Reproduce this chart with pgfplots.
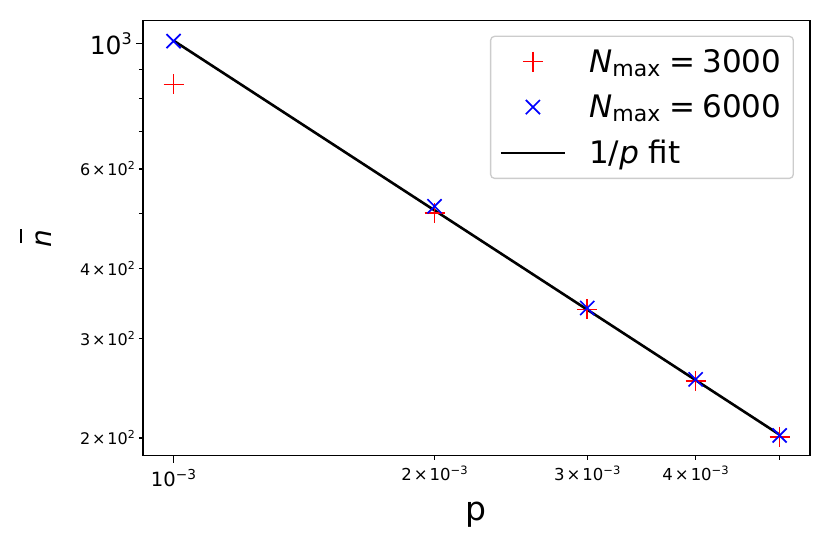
\documentclass[border=0pt]{standalone}
\usepackage{fontspec}
\setmainfont{DejaVu Sans}
\usepackage{pgfplots}
\pgfplotsset{compat=1.18}
\newcommand{\tenp}[3]{{\fontsize{#1pt}{#1pt}\selectfont 10\raisebox{0.38em}{\fontsize{#2pt}{#2pt}\selectfont #3}}}
\newcommand{\mtenp}[4]{{\fontsize{#1pt}{#1pt}\selectfont #3\hspace{0.12em}×\hspace{0.12em}10\raisebox{0.38em}{\fontsize{#2pt}{#2pt}\selectfont #4}}}
\newcommand{\Nmax}{\textit{N}\raisebox{-0.12em}{\fontsize{22}{22}\selectfont max}\hspace{0.3em}=\hspace{0.22em}}
\newcommand{\nbar}{\vbox{\hbox{\hspace{0.14em}\rule{0.5em}{1.3pt}}\kern2pt\hbox{\itshape n}}}
\begin{document}
\begin{tikzpicture}
\begin{axis}[
  name=ax,
  scale only axis,
  width=667pt, height=435pt,
  xmode=log, ymode=log,
  xmin=0.000922, xmax=0.00542,
  ymin=186, ymax=1099,
  axis line style={line width=1.5pt, black},
  tick style={line width=1.3pt, black},
  tick align=outside,
  tick pos=left,
  xtick={0.002,0.003,0.004,0.005},
  xticklabels={\mtenp{16.5}{11.5}{2}{−3},\mtenp{16.5}{11.5}{3}{−3},\mtenp{16.5}{11.5}{4}{−3},{}},
  extra x ticks={0.001},
  extra x tick labels={\tenp{19.6}{13.7}{−3}},
  extra x tick style={major tick length=7pt, tick pos=left},
  ytick={200,300,400,500,600,700,800,900},
  yticklabels={\mtenp{16}{11}{2}{2},\mtenp{16}{11}{3}{2},\mtenp{16}{11}{4}{2},{},\mtenp{16}{11}{6}{2},{},{},{}},
  extra y ticks={1000},
  extra y tick labels={\tenp{25}{16}{3}},
  extra y tick style={major tick length=7pt, tick pos=left},
  major tick length=4pt,
  minor tick num=0,
  xminorticks=false, yminorticks=false,
  xticklabel style={inner sep=0pt, anchor=north, yshift=-6pt},
  yticklabel style={inner sep=0pt, anchor=east, xshift=-4pt},
  xlabel={\fontsize{33}{33}\selectfont p},
  xlabel style={at={(axis description cs:0.5,-0.150)}, anchor=base, inner sep=0pt},
  ylabel={\fontsize{28}{28}\selectfont \nbar},
  ylabel style={at={(axis description cs:-0.1604,0.5)}, anchor=center, inner sep=0pt},
  legend style={at={(1,1)}, anchor=north east, xshift=-16pt, yshift=-15pt,
    draw=black!20, line width=1.3pt, rounded corners=4pt,
    font=\fontsize{31}{31}\selectfont,
    inner xsep=9pt, inner ysep=10pt, row sep=15pt,
    nodes={inner sep=3pt},
    /tikz/every odd column/.append style={column sep=20pt}},
  legend cell align=left,
  legend image code/.code={\draw[mark repeat=2,mark phase=2,#1] plot coordinates {(0pt,0pt) (32pt,0pt) (64pt,0pt)};},
]
\addplot[only marks, mark=+, color=red, mark size=10pt, line width=1.7pt] coordinates {
  (0.001,847) (0.002,501) (0.003,338) (0.004,252) (0.005,201)
};
\addlegendentry{\Nmax 3000}
\addplot[only marks, mark=x, color=blue, mark size=10pt, line width=1.7pt] coordinates {
  (0.001,1011) (0.002,515) (0.003,340) (0.004,254) (0.005,202)
};
\addlegendentry{\Nmax 6000}
\addplot[black, line width=2.6pt, no marks] coordinates {
  (0.001,1013) (0.005,202.6)
};
\addlegendentry{1/\textit{p} fit}
\end{axis}
\pgfresetboundingbox
\path ([shift={(-143pt,-98.3pt)}]ax.south west) rectangle ([shift={(20pt,20.7pt)}]ax.north east);
\end{tikzpicture}
\end{document}
